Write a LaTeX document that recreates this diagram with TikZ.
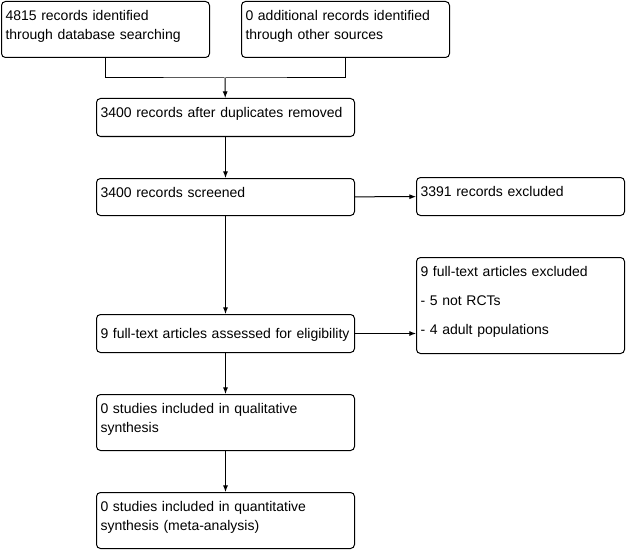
\documentclass[tikz,border=0pt]{standalone}
\usepackage{fontspec}
\setmainfont{Liberation Sans}
\usetikzlibrary{positioning, arrows.meta}

\begin{document}
\begin{tikzpicture}[x=0.75pt, y=-0.75pt, line width=0.75pt,
    box/.style={draw, rounded corners=3pt, anchor=north west, align=left,
      inner xsep=3pt, inner ysep=0pt, text height=14.2pt,
      font=\fontsize{10.5}{14.25}\selectfont},
    arr/.style={-{Latex[length=5pt, width=3.8pt]}}]
    \useasboundingbox (0,0) rectangle (627,549);

    % Identification
    \node[box, text width=150pt, text depth=27.8pt] (db) at (1,1)
      {4815 records identified\\through database searching};
    \node[box, text width=150pt, text depth=27.8pt] (other) at (241,1)
      {0 additional records identified\\through other sources};
    \coordinate (merge) at (225,78);

    % Screening
    \node[box, text width=187.5pt, text depth=14.3pt] (dup) at (96,98)
      {3400 records after duplicates removed};
    \node[box, text width=187.5pt, text depth=13.55pt] (screened) at (96,178)
      {3400 records screened};
    \node[box, text width=150pt, text depth=14.3pt] (excl) at (416,177)
      {3391 records excluded};

    % Eligibility
    \node[box, text width=187.5pt, text height=17.9pt, text depth=10.6pt] (full) at (96,314)
      {9 full-text articles assessed for eligibility};
    \node[box, text width=150pt, text depth=57.8pt] (ftexcl) at (416,257)
      {9 full-text articles excluded\\[7.5pt]- 5 not RCTs\\[7.5pt]- 4 adult populations};

    % Included
    \node[box, text width=187.5pt, text depth=27.8pt] (qual) at (96,394)
      {0 studies included in qualitative\\synthesis};
    \node[box, text width=187.5pt, text depth=27.8pt] (quant) at (96,492)
      {0 studies included in quantitative\\synthesis (meta-analysis)};

    % Connectors
    \draw (db.south) |- (merge) -| (other.south);
    \draw[arr] (merge) -- (dup);
    \draw[arr] (dup) -- (screened);
    \draw[arr] (screened) -- (excl);
    \draw[arr] (screened) -- (full);
    \draw[arr] (full.east) -- (ftexcl.west |- full.east);
    \draw[arr] (full) -- (qual);
    \draw[arr] (qual) -- (quant);
  \end{tikzpicture}
\end{document}
